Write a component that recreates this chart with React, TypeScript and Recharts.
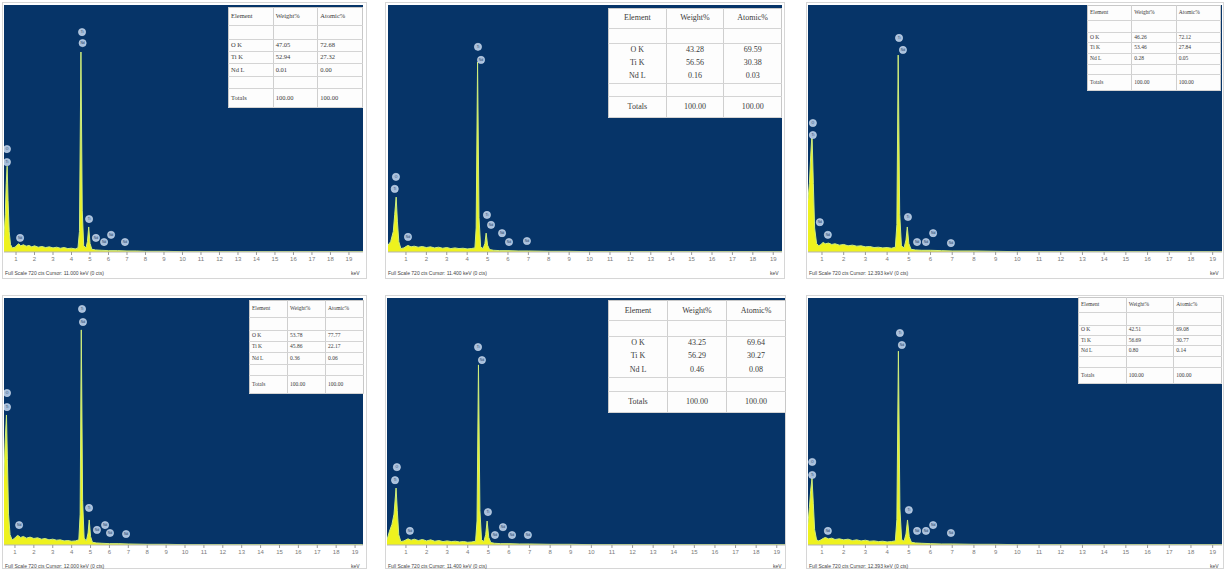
import React from 'react';
import { ComposedChart, Area, Scatter, XAxis, YAxis } from 'recharts';

type Pt = [number, number];
type Peak = [number, number, string];

// ---- data: spectra (keV, counts) ----
const SPEC_1: Pt[] = [[0.35,45],[0.42,110],[0.47,200],[0.52,250],[0.57,150],[0.63,60],[0.7,22],[0.8,12],[0.95,14],[1.05,20],[1.15,24],[1.25,18],[1.4,21],[1.55,17],[1.7,19],[1.85,15],[2.0,18],[2.2,14],[2.4,16],[2.6,13],[2.8,15],[3.0,12],[3.2,14],[3.4,11],[3.6,13],[3.8,10],[4.0,11],[4.2,9],[4.35,12],[4.43,60],[4.51,583],[4.58,120],[4.66,18],[4.78,12],[4.86,30],[4.93,73],[5.0,25],[5.1,8],[5.3,6],[5.6,5],[6.0,4],[6.5,4],[7.0,3],[7.5,3],[8.0,2],[9.0,2],[10,1],[12,1],[15,1],[19.8,1]];
const SPEC_2: Pt[] = [[0.12,20],[0.25,30],[0.38,60],[0.45,110],[0.52,160],[0.58,90],[0.65,30],[0.75,10],[0.9,12],[1.0,16],[1.1,19],[1.25,15],[1.4,17],[1.6,14],[1.8,16],[2.0,13],[2.2,15],[2.4,12],[2.6,14],[2.8,11],[3.0,13],[3.2,10],[3.4,12],[3.6,10],[3.8,11],[4.0,9],[4.2,10],[4.38,12],[4.44,70],[4.51,554],[4.58,100],[4.66,15],[4.78,10],[4.87,25],[4.93,55],[5.0,20],[5.1,7],[5.3,5],[5.6,4],[6.0,4],[6.5,3],[7.0,3],[8.0,2],[9.0,2],[10,1],[13,1],[16,1],[19.5,1]];
const SPEC_3: Pt[] = [[0.35,150],[0.42,200],[0.48,280],[0.54,347],[0.6,200],[0.66,70],[0.75,25],[0.85,18],[0.95,22],[1.05,28],[1.15,24],[1.3,26],[1.45,22],[1.6,24],[1.8,20],[2.0,22],[2.2,18],[2.4,20],[2.6,17],[2.8,18],[3.0,15],[3.2,16],[3.4,13],[3.6,14],[3.8,12],[4.0,13],[4.2,11],[4.38,14],[4.45,80],[4.51,574],[4.58,110],[4.66,18],[4.78,12],[4.87,35],[4.93,73],[5.0,25],[5.1,8],[5.3,6],[5.6,5],[6.0,5],[6.5,4],[7.0,3],[8.0,3],[9.0,2],[10,1],[13,1],[16,1],[19.5,1]];
const SPEC_4: Pt[] = [[0.42,200],[0.48,300],[0.55,379],[0.6,250],[0.66,90],[0.74,30],[0.85,15],[0.95,18],[1.05,24],[1.15,28],[1.3,22],[1.45,25],[1.6,20],[1.8,23],[2.0,19],[2.2,21],[2.4,17],[2.6,19],[2.8,15],[3.0,17],[3.2,14],[3.4,15],[3.6,12],[3.8,13],[4.0,11],[4.2,12],[4.38,15],[4.45,90],[4.51,627],[4.58,130],[4.66,20],[4.78,12],[4.87,35],[4.93,73],[5.0,25],[5.1,8],[5.3,6],[5.6,5],[6.0,4],[6.5,4],[7.0,3],[8.0,2],[9.0,2],[10,1],[13,1],[16,1],[19.4,1]];
const SPEC_5: Pt[] = [[0.08,15],[0.2,40],[0.32,60],[0.42,90],[0.52,166],[0.58,100],[0.65,30],[0.75,10],[0.9,12],[1.0,15],[1.1,18],[1.25,14],[1.4,17],[1.6,13],[1.8,16],[2.0,12],[2.2,15],[2.4,11],[2.6,13],[2.8,10],[3.0,12],[3.2,10],[3.4,11],[3.6,9],[3.8,10],[4.0,8],[4.2,9],[4.38,11],[4.45,70],[4.52,525],[4.59,100],[4.67,15],[4.78,10],[4.87,30],[4.94,70],[5.02,22],[5.12,7],[5.3,5],[5.6,4],[6.0,4],[6.5,3],[7.0,3],[8.0,2],[9.0,2],[10,1],[13,1],[16,1],[19.4,1]];
const SPEC_6: Pt[] = [[0.35,60],[0.42,110],[0.48,160],[0.54,195],[0.6,120],[0.66,45],[0.75,15],[0.85,12],[0.95,15],[1.05,19],[1.15,22],[1.3,18],[1.45,20],[1.6,16],[1.8,18],[2.0,15],[2.2,17],[2.4,13],[2.6,15],[2.8,12],[3.0,14],[3.2,11],[3.4,12],[3.6,10],[3.8,11],[4.0,9],[4.2,10],[4.38,12],[4.45,75],[4.52,565],[4.59,105],[4.67,16],[4.78,11],[4.87,32],[4.94,73],[5.02,24],[5.12,8],[5.3,6],[5.6,5],[6.0,4],[6.5,3],[7.0,3],[8.0,2],[9.0,2],[10,1],[13,1],[16,1],[19.5,1]];

// ---- data: peak identification markers (keV, counts, label) ----
const PEAKS_1: Peak[] = [[0.51,300,'O'],[0.51,262,'Ti'],[1.22,41,'Nd'],[4.57,641,'Ti'],[4.6,609,'Nd'],[4.95,96,'Ti'],[5.32,41,'Nd'],[5.76,29,'Nd'],[6.14,50,'Nd'],[6.89,29,'Nd']];
const PEAKS_2: Peak[] = [[0.51,219,'O'],[0.45,184,'Ti'],[1.1,44,'Nd'],[4.53,598,'Ti'],[4.68,560,'Nd'],[4.97,108,'Ti'],[5.17,79,'Nd'],[5.71,55,'Nd'],[6.05,29,'Nd'],[6.93,32,'Nd']];
const PEAKS_3: Peak[] = [[0.58,376,'O'],[0.58,341,'Ti'],[0.9,87,'Nd'],[1.27,50,'Nd'],[4.55,624,'Ti'],[4.73,589,'Nd'],[4.96,102,'Ti'],[5.38,29,'Nd'],[5.79,29,'Nd'],[6.12,55,'Nd'],[6.94,26,'Nd']];
const PEAKS_4: Peak[] = [[0.58,443,'O'],[0.58,402,'Ti'],[1.22,58,'Nd'],[4.55,688,'Ti'],[4.6,650,'Nd'],[4.92,108,'Ti'],[5.34,44,'Nd'],[5.77,58,'Nd'],[6.03,35,'Nd'],[6.88,32,'Nd']];
const PEAKS_5: Peak[] = [[0.56,227,'O'],[0.47,189,'Ti'],[1.19,41,'Nd'],[4.5,577,'Ti'],[4.69,539,'Nd'],[4.98,96,'Ti'],[5.32,29,'Nd'],[5.71,52,'Nd'],[6.15,29,'Nd'],[6.92,29,'Nd']];
const PEAKS_6: Peak[] = [[0.55,242,'O'],[0.55,204,'Ti'],[1.27,41,'Nd'],[4.59,618,'Ti'],[4.68,583,'Nd'],[5.0,102,'Ti'],[5.38,41,'Nd'],[5.79,41,'Nd'],[6.12,58,'Nd'],[6.94,35,'Nd']];

// ---- data: quantification tables ----
const HEADERS = ['Element', 'Weight%', 'Atomic%'];
const ELEMENTS = ['O K', 'Ti K', 'Nd L'];
const WEIGHT_1 = ['47.05', '52.94', '0.01'];
const ATOMIC_1 = ['72.68', '27.32', '0.00'];
const WEIGHT_2 = ['43.28', '56.56', '0.16'];
const ATOMIC_2 = ['69.59', '30.38', '0.03'];
const WEIGHT_3 = ['46.26', '53.46', '0.28'];
const ATOMIC_3 = ['72.12', '27.84', '0.05'];
const WEIGHT_4 = ['53.78', '45.86', '0.36'];
const ATOMIC_4 = ['77.77', '22.17', '0.06'];
const WEIGHT_5 = ['43.25', '56.29', '0.46'];
const ATOMIC_5 = ['69.64', '30.27', '0.08'];
const WEIGHT_6 = ['42.51', '56.69', '0.80'];
const ATOMIC_6 = ['69.08', '30.77', '0.14'];
const TOTALS_LABEL = 'Totals';
const TOTALS = ['100.00', '100.00'];

const X_TICKS = [1, 2, 3, 4, 5, 6, 7, 8, 9, 10, 11, 12, 13, 14, 15, 16, 17, 18, 19];
const FULL_SCALE = 720;
const CAPTIONS = [
  'Full Scale 720 cts Cursor: 11.000 keV (0 cts)',
  'Full Scale 720 cts Cursor: 11.400 keV (0 cts)',
  'Full Scale 720 cts Cursor: 12.393 keV (0 cts)',
  'Full Scale 720 cts Cursor: 12.000 keV (0 cts)',
  'Full Scale 720 cts Cursor: 11.400 keV (0 cts)',
  'Full Scale 720 cts Cursor: 12.393 keV (0 cts)',
];
const UNIT = 'keV';

const SPECTRA = [SPEC_1, SPEC_2, SPEC_3, SPEC_4, SPEC_5, SPEC_6];
const PEAKS = [PEAKS_1, PEAKS_2, PEAKS_3, PEAKS_4, PEAKS_5, PEAKS_6];
const WEIGHTS = [WEIGHT_1, WEIGHT_2, WEIGHT_3, WEIGHT_4, WEIGHT_5, WEIGHT_6];
const ATOMICS = [ATOMIC_1, ATOMIC_2, ATOMIC_3, ATOMIC_4, ATOMIC_5, ATOMIC_6];

// ---- layout (positions / styles only) ----
type Layout = {
  frame: number[]; plot: number[]; dom: [number, number];
  table: number[]; tfs: number; center: boolean;
};
const LAYOUT: Layout[] = [
  { frame: [2, 2, 365, 277], plot: [4, 5, 359, 247], dom: [0.35, 19.76], table: [228, 7, 135, 100], tfs: 6.5, center: false },
  { frame: [385, 2, 400, 277], plot: [388, 5, 394, 247], dom: [0.12, 19.43], table: [608, 8, 174, 109], tfs: 8, center: true },
  { frame: [806, 2, 418, 277], plot: [808, 5, 414, 247], dom: [0.355, 19.43], table: [1087, 5, 134, 85], tfs: 5.5, center: false },
  { frame: [2, 295, 365, 274], plot: [4, 298, 359, 247], dom: [0.42, 19.42], table: [249, 300, 115, 93], tfs: 5.5, center: false },
  { frame: [385, 295, 401, 274], plot: [387, 298, 398, 247], dom: [0.08, 19.4], table: [608, 300, 178, 112], tfs: 8, center: true },
  { frame: [806, 295, 418, 274], plot: [808, 298, 414, 247], dom: [0.355, 19.43], table: [1078, 297, 144, 86], tfs: 5.5, center: false },
];
const ROW_FR = [0.18, 0.14, 0.12, 0.12, 0.13, 0.12, 0.19];
const BLUE = '#063468';
const AXIS_H = 16;

const PeakMarker = (props: any) => {
  const { cx, cy, payload } = props;
  if (cx == null || cy == null) return null;
  return (
    <g>
      <circle cx={cx} cy={cy} r={3.6} fill="#a7bfdc" stroke="#cfdcec" strokeWidth={0.6} />
      <text x={cx} y={cy + 1.2} textAnchor="middle" fontSize={3.4} fill="#1d3d66" fontFamily="Arial">{payload.t}</text>
    </g>
  );
};

function QuantTable({ idx }: { idx: number }) {
  const L = LAYOUT[idx];
  const [x, y, w, h] = L.table;
  const rows: string[][] = [
    HEADERS,
    ['', '', ''],
    [ELEMENTS[0], WEIGHTS[idx][0], ATOMICS[idx][0]],
    [ELEMENTS[1], WEIGHTS[idx][1], ATOMICS[idx][1]],
    [ELEMENTS[2], WEIGHTS[idx][2], ATOMICS[idx][2]],
    ['', '', ''],
    [TOTALS_LABEL, TOTALS[0], TOTALS[1]],
  ];
  return (
    <table style={{
      position: 'absolute', left: x, top: y, width: w, height: h, background: '#fdfdfd',
      borderCollapse: 'collapse', border: '1px solid #c8c8c8', tableLayout: 'fixed',
      fontFamily: '"Liberation Serif", "DejaVu Serif", serif', fontSize: L.tfs, color: '#3a3a3a',
    }}>
      <tbody>
        {rows.map((r, ri) => {
          const inner = ri >= 2 && ri <= 3;
          return (
            <tr key={ri} style={{ height: h * ROW_FR[ri] }}>
              {r.map((c, ci) => (
                <td key={ci} style={{
                  padding: '0 2px', lineHeight: 1, whiteSpace: 'nowrap', overflow: 'hidden',
                  textAlign: L.center ? 'center' : 'left',
                  borderLeft: ci > 0 ? '1px solid #cfcfcf' : 'none',
                  borderBottom: L.center && (inner || ri === 4 && false) ? 'none' : '1px solid #d4d4d4',
                }}>{c}</td>
              ))}
            </tr>
          );
        })}
      </tbody>
    </table>
  );
}

function Panel({ idx }: { idx: number }) {
  const L = LAYOUT[idx];
  const [fx, fy, fw, fh] = L.frame;
  const [px, py, pw, ph] = L.plot;
  const data = SPECTRA[idx].map(([x, y]) => ({ x, y }));
  const peaks = PEAKS[idx].map(([x, y, t]) => ({ x, y, t }));
  return (
    <>
      <div style={{ position: 'absolute', left: fx, top: fy, width: fw - 2, height: fh - 2, border: '1px solid #d6d6d6', background: '#fff' }} />
      <div style={{ position: 'absolute', left: px, top: py, width: pw, height: ph, background: BLUE }} />
      <div style={{ position: 'absolute', left: px, top: py }}>
        <ComposedChart width={pw} height={ph + AXIS_H} data={data} margin={{ top: 0, right: 0, bottom: 0, left: 0 }}>
          <XAxis dataKey="x" type="number" domain={L.dom} allowDataOverflow ticks={X_TICKS} interval={0}
            height={AXIS_H} tickSize={3} tick={{ fontSize: 6, fill: '#7a7a7a', fontFamily: 'Arial' }}
            tickLine={{ stroke: '#9a9a9a' }} axisLine={{ stroke: '#b5b5b5' }} />
          <YAxis hide type="number" domain={[0, FULL_SCALE]} allowDataOverflow />
          <Area type="linear" dataKey="y" stroke="#cfee7c" strokeWidth={1} fill="#eef21e" fillOpacity={1}
            isAnimationActive={false} dot={false} activeDot={false} />
          <Scatter data={peaks} dataKey="y" shape={PeakMarker} isAnimationActive={false} />
        </ComposedChart>
      </div>
      <div style={{ position: 'absolute', left: fx + 3, top: py + ph + AXIS_H + 2, fontSize: 5, fontFamily: 'Arial', color: '#444', whiteSpace: 'nowrap' }}>{CAPTIONS[idx]}</div>
      <div style={{ position: 'absolute', left: px + pw - 12, top: py + ph + AXIS_H + 2, fontSize: 5, fontFamily: 'Arial', color: '#444' }}>{UNIT}</div>
      <QuantTable idx={idx} />
    </>
  );
}

export default function App() {
  return (
    <div style={{ position: 'absolute', left: 0, top: 0, width: 1225, height: 571, background: '#fff', overflow: 'hidden' }}>
      {LAYOUT.map((_, i) => <Panel key={i} idx={i} />)}
    </div>
  );
}
